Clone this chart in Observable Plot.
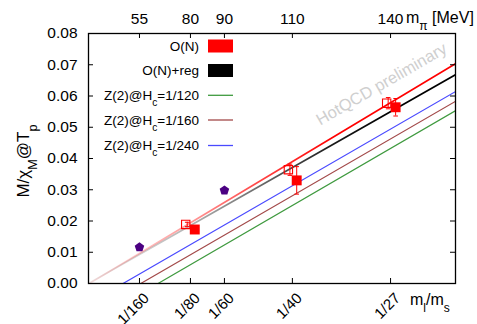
<!DOCTYPE html>
<html><head><meta charset="utf-8">
<script src="https://cdn.jsdelivr.net/npm/d3@7"></script>
<script src="https://cdn.jsdelivr.net/npm/@observablehq/plot@0.6"></script>
<style>body{margin:0;background:#fff} svg{display:block}</style>
</head><body><div id="chart"></div>
<script>
// ---- data ----
const xTicks = [1/160, 1/80, 1/60, 1/40, 1/27];
const xTickLabels = ["1/160", "1/80", "1/60", "1/40", "1/27"];
const mpiLabels = ["55", "80", "90", "110", "140"];
const yTicks = [0, 0.01, 0.02, 0.03, 0.04, 0.05, 0.06, 0.07, 0.08];

// fit lines (start point and end point)
const fitNames = ["O(N)", "O(N)+reg", "Z(2)@Hc=1/120", "Z(2)@Hc=1/160", "Z(2)@Hc=1/240"];
const fitColors = ["#ff0000", "#000000", "#3f9a3f", "#a34a4a", "#4a4aff"];
const fitX0 = [0.0001, 0.0, 0.00853, 0.00641, 0.00424];
const fitY0 = [0, 0, 0, 0, 0];
const fitX1 = [0.045, 0.045, 0.045, 0.045, 0.045];
const fitY1 = [0.0703, 0.0668, 0.0553, 0.0583, 0.0614];

// open squares
const openX = [0.01192, 0.02451, 0.03656];
const openY = [0.0189, 0.0364, 0.0577];
const openErr = [0.0007, 0.0018, 0.0018];
// filled squares
const fillX = [0.01303, 0.02553, 0.03766];
const fillY = [0.01728, 0.0330, 0.0564];
const fillErr = [0.0005, 0.0044, 0.0028];
// pentagons
const pentX = [1/160, 1/60];
const pentY = [0.0116, 0.0298];

// ---- layout ----
const W = 477, H = 324, mL = 88, mR = 22, mT = 33, mB = 41;
const innerW = W - mL - mR, innerH = H - mT - mB;
const FONT = "Liberation Sans, Arial, Helvetica, sans-serif";

const pts = (xs, ys, es) => xs.map((x, i) => ({x, y: ys[i], e: es ? es[i] : 0}));
const openData = pts(openX, openY, openErr);
const fillData = pts(fillX, fillY, fillErr);
const pentData = pts(pentX, pentY);
const fitData = fitNames.map((n, i) => [{x: fitX0[i], y: fitY0[i]}, {x: fitX1[i], y: fitY1[i]}]);

const pentagon = {draw(ctx, size) {
  const r = Math.sqrt(size / Math.PI);
  for (let k = 0; k < 5; k++) {
    const a = -Math.PI / 2 + k * 2 * Math.PI / 5;
    const px = r * Math.cos(a), py = r * Math.sin(a);
    k ? ctx.lineTo(px, py) : ctx.moveTo(px, py);
  }
  ctx.closePath();
}};
const cap = {draw(ctx, size) {
  const r = Math.sqrt(size / Math.PI);
  ctx.moveTo(-r, 0); ctx.lineTo(r, 0);
}};

const fitStroke = i => i === 0 ? "url(#gradRed)" : i === 1 ? "url(#gradBlack)" : fitColors[i];
const fitWidth = i => i < 2 ? 1.7 : 1.2;

const errMarks = (data, dx) => [
  Plot.ruleX(data, {x: "x", y1: d => d.y - d.e, y2: d => d.y + d.e, stroke: "#ff0000", strokeWidth: 1, dx}),
  Plot.dot(data, {x: "x", y: d => d.y - d.e, symbol: cap, r: 2.3, stroke: "#ff0000", strokeWidth: 1, dx}),
  Plot.dot(data, {x: "x", y: d => d.y + d.e, symbol: cap, r: 2.3, stroke: "#ff0000", strokeWidth: 1, dx})
];

const chart = Plot.plot({
  width: W, height: H,
  marginLeft: mL, marginRight: mR, marginTop: mT, marginBottom: mB,
  style: {fontFamily: FONT, fontSize: "15px", background: "#fff", color: "#000"},
  x: {domain: [0, 0.045], axis: null},
  y: {domain: [0, 0.08], axis: null},
  marks: [
    // fit lines
    ...[2, 3, 4, 1, 0].map(i => Plot.line(fitData[i], {x: "x", y: "y", stroke: fitStroke(i), strokeWidth: fitWidth(i), clip: true})),
    // error bars
    ...errMarks(openData, 1.5),
    ...errMarks(fillData, 0),
    // points
    Plot.dot(openData, {x: "x", y: "y", symbol: "square", r: 4.7, stroke: "#ff0000", strokeWidth: 1.1, fill: "none"}),
    Plot.dot(fillData, {x: "x", y: "y", symbol: "square", r: 5.6, fill: "#ff0000", stroke: "none"}),
    Plot.dot(pentData, {x: "x", y: "y", symbol: pentagon, r: 5, fill: "#4b0082", stroke: "none"}),
    // ticks (inward)
    Plot.ruleX(xTicks, {x: d => d, insetTop: innerH - 5, stroke: "#000", strokeWidth: 1}),
    Plot.ruleX(xTicks, {x: d => d, insetBottom: innerH - 5, stroke: "#000", strokeWidth: 1}),
    Plot.ruleY(yTicks, {y: d => d, insetRight: innerW - 5, stroke: "#000", strokeWidth: 1}),
    Plot.ruleY(yTicks, {y: d => d, insetLeft: innerW - 5, stroke: "#000", strokeWidth: 1}),
    // tick labels
    Plot.text(yTicks, {y: d => d, text: d => d3.format(".2f")(d), frameAnchor: "left", textAnchor: "end", lineAnchor: "middle", dx: -11, fontSize: 15.5}),
    Plot.text(xTicks, {x: d => d, text: (d, i) => mpiLabels[i], frameAnchor: "top", lineAnchor: "bottom", dy: -10, fontSize: 15.5}),
    Plot.text(xTicks, {x: d => d, text: (d, i) => xTickLabels[i], frameAnchor: "bottom", textAnchor: "end", lineAnchor: "top", rotate: -45, dx: 3, dy: 8, fontSize: 15}),
    Plot.frame({stroke: "#000", strokeWidth: 1.3})
  ]
});

const svg = d3.select(chart);
const xs = chart.scale("x");
const x0 = xs.apply(0), x1 = xs.apply(0.045);
const defs = svg.insert("defs", ":first-child");
function grad(id, color, stops) {
  const g = defs.append("linearGradient").attr("id", id).attr("gradientUnits", "userSpaceOnUse")
    .attr("x1", x0).attr("x2", x1).attr("y1", 0).attr("y2", 0);
  stops.forEach(([v, o]) => g.append("stop").attr("offset", v / 0.045).attr("stop-color", color).attr("stop-opacity", o));
}
grad("gradRed", "#ff0000", [[0, 0.08], [0.0125, 0.4], [0.02, 0.7], [0.03, 1], [0.045, 1]]);
grad("gradBlack", "#000000", [[0, 0.06], [0.0125, 0.3], [0.02, 0.55], [0.03, 0.9], [0.037, 1], [0.045, 1]]);

// watermark
svg.append("text").attr("transform", "translate(382,85) rotate(-30)")
  .attr("text-anchor", "middle").attr("dominant-baseline", "middle")
  .attr("font-family", FONT).attr("font-size", 16.5).attr("fill", "#cfcfcf")
  .text("HotQCD preliminary");

// helper for texts with subscripts
function richText(sel, parts) {
  parts.forEach(p => {
    if (typeof p === "string") sel.append("tspan").text(p);
    else sel.append("tspan").attr("baseline-shift", "sub").attr("font-size", "75%").text(p.sub);
  });
  return sel;
}

// legend
const legendLabels = [
  ["O(N)"], ["O(N)+reg"],
  ["Z(2)@H", {sub: "c"}, "=1/120"], ["Z(2)@H", {sub: "c"}, "=1/160"], ["Z(2)@H", {sub: "c"}, "=1/240"]
];
const rowY = [46, 70.5, 95.3, 120, 145.5];
legendLabels.forEach((lab, r) => {
  const t = svg.append("text").attr("x", 199).attr("y", rowY[r]).attr("text-anchor", "end")
    .attr("dy", "0.35em").attr("font-family", FONT).attr("font-size", 13.5);
  richText(t, lab);
  if (r < 2) {
    svg.append("rect").attr("x", 208).attr("y", rowY[r] - 6.5).attr("width", 25).attr("height", 13).attr("fill", fitColors[r]);
  } else {
    svg.append("line").attr("x1", 208).attr("x2", 233).attr("y1", rowY[r]).attr("y2", rowY[r])
      .attr("stroke", fitColors[r]).attr("stroke-width", 1.3);
  }
});

// axis titles
richText(svg.append("text").attr("transform", "translate(29,161) rotate(-90)").attr("text-anchor", "middle")
  .attr("font-family", FONT).attr("font-size", 17), ["M/χ", {sub: "M"}, "@T", {sub: "p"}]);
richText(svg.append("text").attr("x", 406).attr("y", 23).attr("text-anchor", "start").attr("font-family", FONT).attr("font-size", 16),
  ["m", {sub: "π"}, " [MeV]"]);
richText(svg.append("text").attr("x", 410).attr("y", 305).attr("text-anchor", "start").attr("font-family", FONT).attr("font-size", 16),
  ["m", {sub: "l"}, "/m", {sub: "s"}]);

document.getElementById("chart").appendChild(chart);
</script>
</body></html>
